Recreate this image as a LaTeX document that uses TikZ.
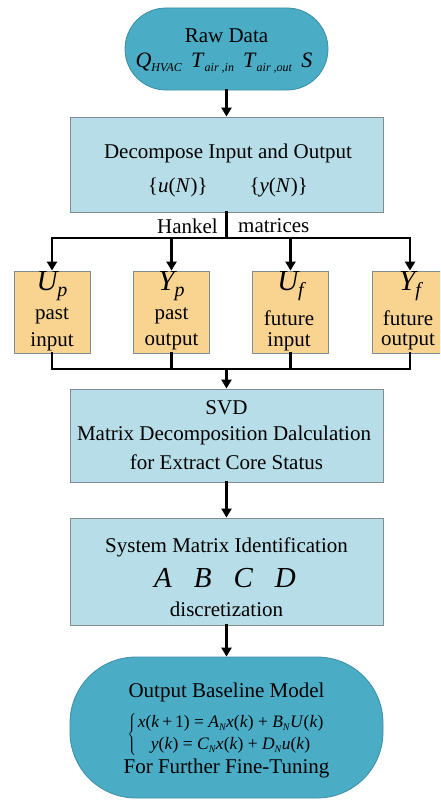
\documentclass[tikz,border=0pt]{standalone}
\usepackage{fontspec}
\setmainfont{Liberation Serif}
\newfontfamily\tnr{Liberation Serif}
\usetikzlibrary{arrows.meta}
\definecolor{stadfill}{HTML}{4BACC6}
\definecolor{stadline}{HTML}{3D8DA3}
\definecolor{boxfill}{HTML}{B7DEE8}
\definecolor{boxline}{HTML}{7F8C90}
\definecolor{yfill}{HTML}{F9D491}
\newcommand\iv[1]{\textit{#1}}
\newcommand\isb[2]{\textit{#1}\raisebox{-0.45ex}{\fontsize{12}{12}\selectfont\textit{#2}}}
\newcommand\eqsb[2]{\textit{#1}\raisebox{-0.4ex}{\fontsize{10}{10}\selectfont\textit{#2}}}
\tikzset{
  stadium/.style={draw=stadline, fill=stadfill, line width=0.8pt},
  bluebox/.style={draw=boxline, fill=boxfill, line width=0.8pt},
  ybox/.style={draw=boxline, fill=yfill, line width=0.8pt, minimum width=76pt, minimum height=82pt},
  conn/.style={line width=2.4pt, line cap=rect, -{Triangle[width=10pt,length=9pt]}},
  busline/.style={line width=2.4pt, line cap=rect},
  txt/.style={font=\tnr\fontsize{21}{24}\selectfont, inner sep=0pt, anchor=center},
  eqtxt/.style={font=\tnr\fontsize{17.5}{21}\selectfont, inner sep=0pt, anchor=center},
  bigit/.style={font=\tnr\fontsize{29}{30}\selectfont\itshape, inner sep=0pt, anchor=center}
}
\begin{document}
\begin{tikzpicture}[x=1pt,y=-1pt]
\useasboundingbox (0,0) rectangle (440,800);
\clip (0,0) rectangle (440,800);
% shapes
\node[stadium, rounded corners=41pt, minimum width=203pt, minimum height=82pt] (raw) at (226.5,49) {};
\node[bluebox, minimum width=313pt, minimum height=95pt] (dec) at (226.5,164.5) {};
\node[ybox] (up) at (52,312) {};
\node[ybox] (yp) at (171.5,312) {};
\node[ybox] (uf) at (290.5,312) {};
\node[ybox] (yf) at (410,312) {};
\node[bluebox, minimum width=313pt, minimum height=93pt] (svd) at (226.5,435.5) {};
\node[bluebox, minimum width=313pt, minimum height=107pt] (sys) at (226.5,571.5) {};
\node[stadium, rounded corners=66pt, minimum width=313pt, minimum height=141pt] (out) at (226.5,727.5) {};
% texts
\node[txt] (rawt) at (226.5,36) {Raw Data};
\node[txt, font=\tnr\fontsize{22}{26}\selectfont] (rawv) at (224,63) {\isb{Q}{HVAC}\, \isb{T}{air ,in}\, \isb{T}{air ,out}\, \iv{S}};
\node[txt] (dect) at (228,153) {Decompose Input and Output};
\node[txt] (decv) at (228,187) {\{\iv{u}(\iv{N})\}\qquad\{\iv{y}(\iv{N})\}};
\node[txt, anchor=east] (hank) at (218,226) {Hankel};
\node[txt, anchor=west] (matr) at (238,226) {matrices};
\node[bigit] (upt) at (52,286) {U\raisebox{-0.5ex}{\fontsize{20}{20}\selectfont p}};
\node[txt] (up1) at (52,316) {past};
\node[txt] (up2) at (52,342) {input};
\node[bigit] (ypt) at (171.5,286) {Y\raisebox{-0.5ex}{\fontsize{20}{20}\selectfont p}};
\node[txt] (yp1) at (171.5,316) {past};
\node[txt] (yp2) at (171.5,342) {output};
\node[bigit] (uft) at (290.5,286) {U\raisebox{-0.5ex}{\fontsize{20}{20}\selectfont f}};
\node[txt] (uf1) at (289,318) {future};
\node[txt] (uf2) at (289,342) {input};
\node[bigit] (yft) at (410,286) {Y\raisebox{-0.5ex}{\fontsize{20}{20}\selectfont f}};
\node[txt] (yf1) at (408,318) {future};
\node[txt] (yf2) at (408,342) {output};
\node[txt] (svd1) at (226.5,408) {SVD};
\node[txt] (svd2) at (224,435) {Matrix Decomposition Dalculation};
\node[txt] (svd3) at (226.5,462) {for Extract Core Status};
\node[txt] (sys1) at (226.5,547) {System Matrix Identification};
\node[bigit] (sys2) at (225,578) {A\hspace{22pt}B\hspace{22pt}C\hspace{22pt}D};
\node[txt] (sys3) at (226.5,609) {discretization};
\node[txt] (out1) at (226.5,692) {Output Baseline Model};
\node[eqtxt] (out2) at (226,734) {$\left\{\hspace{1.5pt}\begin{tabular}{@{}c@{}}\iv{x}(\iv{k}\,+\,1) = \eqsb{A}{N}\iv{x}(\iv{k}) + \eqsb{B}{N}\iv{U}(\iv{k})\\[1pt] \iv{y}(\iv{k}) = \eqsb{C}{N}\iv{x}(\iv{k}) + \eqsb{D}{N}\iv{u}(\iv{k})\end{tabular}\right.$};
\node[txt] (out3) at (226.5,768) {For Further Fine-Tuning};
% connectors
\coordinate (hb) at (226.5,238);
\coordinate (t1) at (52,238);
\coordinate (t2) at (171.5,238);
\coordinate (t3) at (290.5,238);
\coordinate (t4) at (410,238);
\coordinate (b1) at (52,369);
\coordinate (b4) at (410,369);
\coordinate (bc) at (226.5,369);
\draw[conn] (raw) -- (dec);
\draw[busline] (dec.south) -- (hb);
\draw[busline] (t1) -- (t4);
\draw[conn] (t1) -- (up.north);
\draw[conn] (t2) -- (yp.north);
\draw[conn] (t3) -- (uf.north);
\draw[conn] (t4) -- (yf.north);
\draw[busline] (up.south) -- (b1);
\draw[busline] (yp.south) -- (yp.south |- b1);
\draw[busline] (uf.south) -- (uf.south |- b1);
\draw[busline] (yf.south) -- (b4);
\draw[busline] (b1) -- (b4);
\draw[conn] (bc) -- (svd.north);
\draw[conn] (svd) -- (sys);
\draw[conn] (sys) -- (out);
\end{tikzpicture}
\end{document}
